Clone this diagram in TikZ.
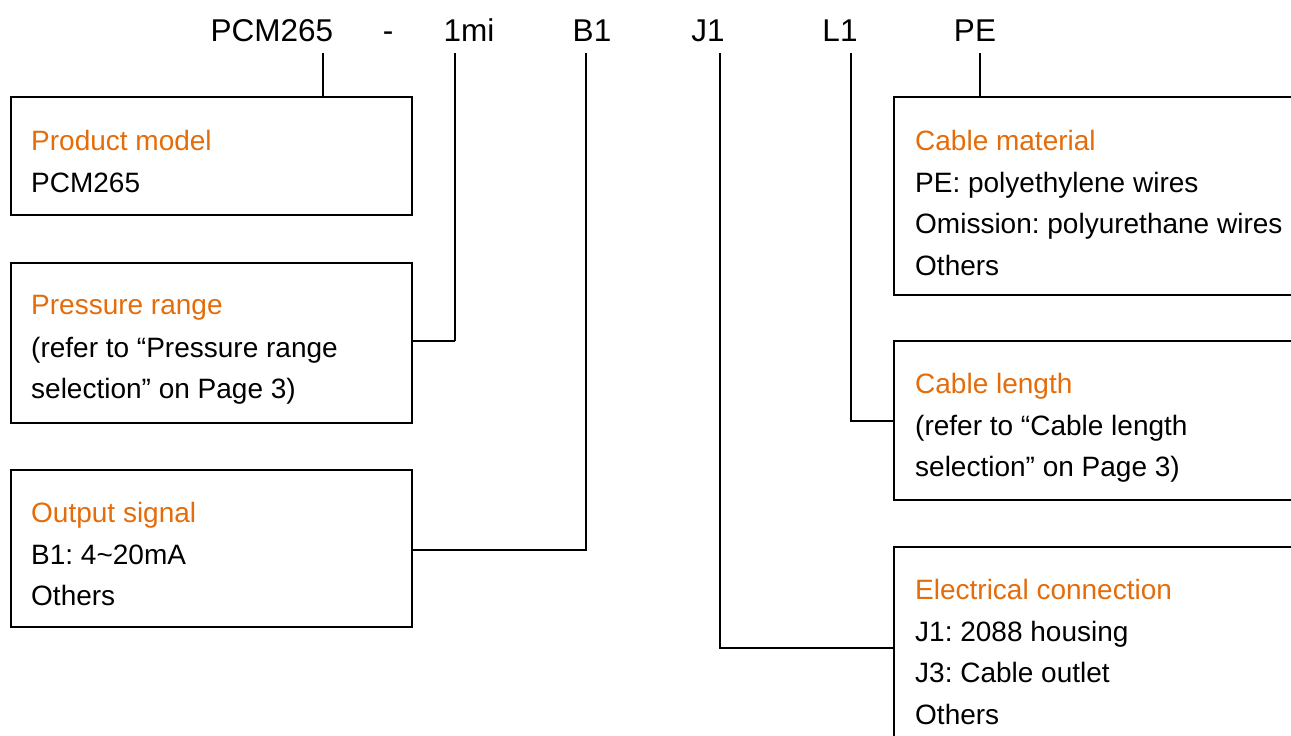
\documentclass[tikz,border=0pt]{standalone}
\usepackage{fontspec}
\setmainfont{Liberation Sans}
\definecolor{ttl}{RGB}{228,108,10}
\frenchspacing
\begin{document}
\begin{tikzpicture}[x=1pt,y=-1pt,
  box/.style={draw=black,line width=1.6pt,rectangle,anchor=north west,inner sep=0pt},
  txt/.style={anchor=base west,inner sep=0pt,font=\fontsize{28}{30}\selectfont},
  ttltxt/.style={txt,text=ttl},
  code/.style={anchor=base,inner sep=0pt,font=\fontsize{31.5}{34}\selectfont},
  wire/.style={line width=1.6pt},
  hwire/.style={line width=2.6pt}]
\path[use as bounding box] (0,0) rectangle (1291,736);
\clip (0,0) rectangle (1291,736);
% code labels
\node[code] (lPCM) at (272,41) {PCM265};
\node[code] (lDash) at (388,41) {-};
\node[code] (lMi) at (469,41) {1mi};
\node[code] (lB) at (592,41) {B1};
\node[code] (lJ) at (708,41) {J1};
\node[code] (lL) at (840,41) {L1};
\node[code] (lPE) at (975,41) {PE};
% boxes
\node[box,minimum width=401pt,minimum height=118pt] (b1) at (10,96) {};
\node[box,minimum width=401pt,minimum height=160pt] (b2) at (10,262) {};
\node[box,minimum width=401pt,minimum height=157pt] (b3) at (10,469) {};
\node[box,minimum width=430pt,minimum height=198pt] (b4) at (893,96) {};
\node[box,minimum width=430pt,minimum height=159pt] (b5) at (893,340) {};
\node[box,minimum width=430pt,minimum height=220pt] (b6) at (893,546) {};
% texts
\node[ttltxt] (t1a) at (31,150) {Product model};
\node[txt] (t1b) at (31,192) {PCM265};
\node[ttltxt] (t2a) at (31,314) {Pressure range};
\node[txt] (t2b) at (31,357) {(refer to “Pressure range};
\node[txt] (t2c) at (31,398) {selection” on Page 3)};
\node[ttltxt] (t3a) at (31,522) {Output signal};
\node[txt] (t3b) at (31,564) {B1: 4\textasciitilde20mA};
\node[txt] (t3c) at (31,605) {Others};
\node[ttltxt] (t4a) at (915,150) {Cable material};
\node[txt] (t4b) at (915,192) {PE: polyethylene wires};
\node[txt] (t4c) at (915,233) {Omission: polyurethane wires};
\node[txt] (t4d) at (915,275) {Others};
\node[ttltxt] (t5a) at (915,393) {Cable length};
\node[txt] (t5b) at (915,435) {(refer to “Cable length};
\node[txt] (t5c) at (915,476) {selection” on Page 3)};
\node[ttltxt] (t6a) at (915,599) {Electrical connection};
\node[txt] (t6b) at (915,641) {J1: 2088 housing};
\node[txt] (t6c) at (915,682) {J3: Cable outlet};
\node[txt] (t6d) at (915,724) {Others};
% connector tops
\coordinate (cP) at (323,53);
\coordinate (cM) at (455,53);
\coordinate (cB) at (586,53);
\coordinate (cJ) at (720,53);
\coordinate (cL) at (851,53);
\coordinate (cE) at (980,53);
\draw[wire] (cP) -- (cP |- b1.north);
\draw[wire] (cE) -- (cE |- b4.north);
\draw[wire] (cM) -- (455,341);
\draw[hwire] (455,341) -- (b2.east |- 0,341);
\draw[wire] (cB) -- (586,550) -- (b3.east |- 0,550);
\draw[wire] (cJ) -- (720,648);
\draw[hwire] (719,648) -- (b6.west |- 0,648);
\draw[hwire] (cL) -- (851,421) -- (b5.west |- 0,421);
\end{tikzpicture}
\end{document}
